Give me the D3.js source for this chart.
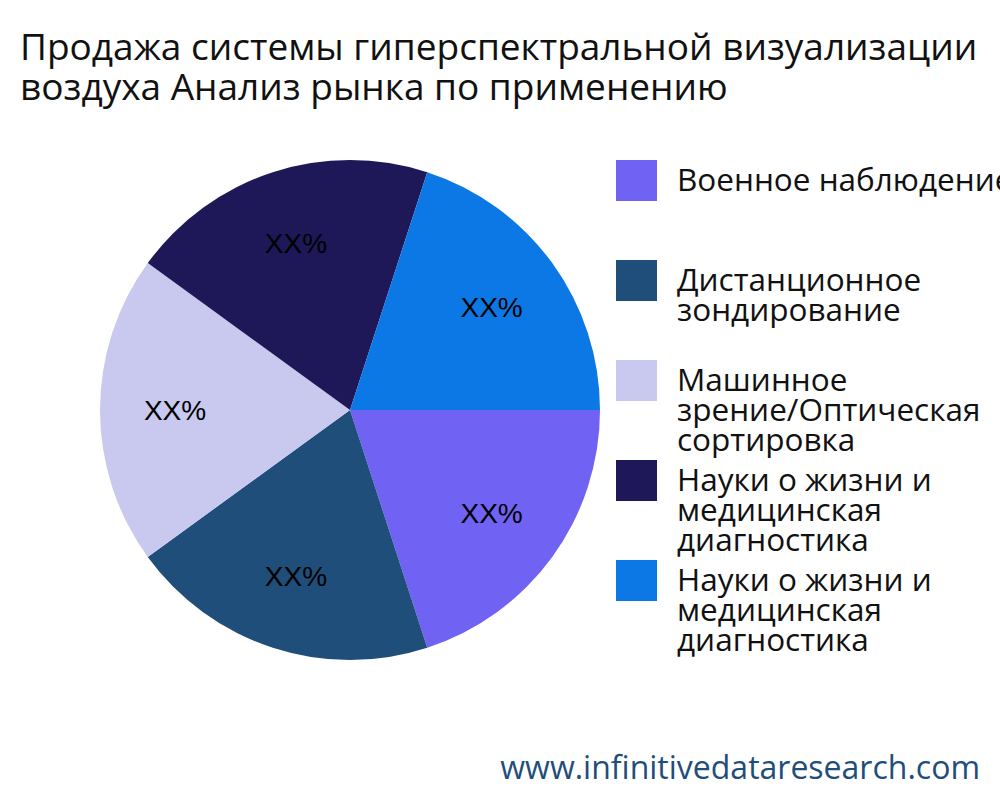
<!DOCTYPE html>
<html><head><meta charset="utf-8">
<script src="https://cdn.jsdelivr.net/npm/d3@7"></script>
<style>body{margin:0;background:#fff}svg{font-family:"Open Sans","Noto Sans",sans-serif}</style>
</head><body>
<svg width="1000" height="800"></svg>
<script>
const categories = ["Военное наблюдение", "Дистанционное зондирование", "Машинное зрение/Оптическая сортировка", "Науки о жизни и медицинская диагностика", "Науки о жизни и медицинская диагностика"];
const legendLines = [["Военное наблюдение"], ["Дистанционное", "зондирование"], ["Машинное", "зрение/Оптическая", "сортировка"], ["Науки о жизни и", "медицинская", "диагностика"], ["Науки о жизни и", "медицинская", "диагностика"]];
const values = [20, 20, 20, 20, 20];
const labels = ["XX%", "XX%", "XX%", "XX%", "XX%"];
const colors = ["#7063F3", "#1F4E7A", "#C9C8EF", "#1E1858", "#0C78E6"];

const svg = d3.select("svg");
svg.append("text").attr("x", 20).attr("y", 60).attr("font-size", 37).attr("fill", "#111")
  .text("Продажа системы гиперспектральной визуализации");
svg.append("text").attr("x", 20).attr("y", 100).attr("font-size", 37).attr("fill", "#111")
  .text("воздуха Анализ рынка по применению");

const cx = 350, cy = 410, r = 250;
const pie = d3.pie().sort(null).startAngle(Math.PI / 2).endAngle(Math.PI / 2 + 2 * Math.PI);
const arc = d3.arc().innerRadius(0).outerRadius(r);
const labelArc = d3.arc().innerRadius(r * 0.7).outerRadius(r * 0.7);
const g = svg.append("g").attr("transform", `translate(${cx},${cy})`);
const arcs = pie(values);
g.selectAll("path").data(arcs).join("path").attr("d", arc).attr("fill", (d, i) => colors[i]);
g.selectAll("text").data(arcs).join("text")
  .attr("transform", d => `translate(${labelArc.centroid(d)})`)
  .attr("text-anchor", "middle").attr("dy", "0.35em")
  .attr("font-family", "Liberation Sans, Arial, sans-serif").attr("font-size", 28).attr("fill", "#000")
  .text((d, i) => labels[i]);

const leg = svg.append("g");
categories.forEach((c, i) => {
  const y = 160 + i * 100;
  leg.append("rect").attr("x", 616).attr("y", y).attr("width", 41).attr("height", 41).attr("fill", colors[i]);
  const t = leg.append("text").attr("x", 677).attr("y", y + 31).attr("font-size", 31.5).attr("fill", "#111");
  legendLines[i].forEach((l, j) => t.append("tspan").attr("x", 677).attr("dy", j ? 30 : 0).text(l));
});

svg.append("text").attr("x", 980).attr("y", 779).attr("text-anchor", "end").attr("font-size", 32)
  .attr("fill", "#1F4E7A").text("www.infinitivedataresearch.com");
</script>
</body></html>
